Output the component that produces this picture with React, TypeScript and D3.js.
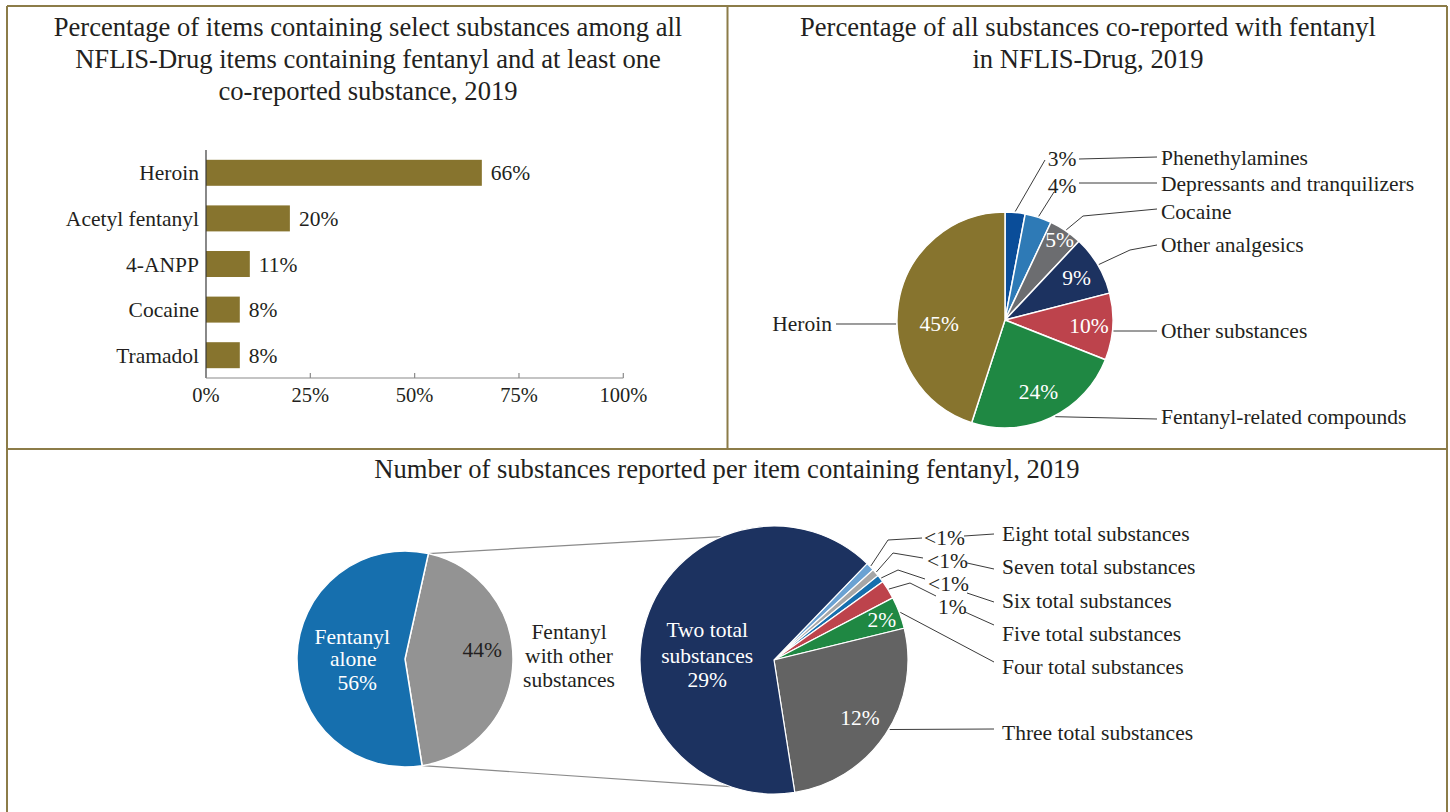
import React from 'react';
import * as d3 from 'd3';

// ---------- DATA ----------
const barCategories = ['Heroin', 'Acetyl fentanyl', '4-ANPP', 'Cocaine', 'Tramadol'];
const barValues = [66.1, 20.1, 10.5, 8.1, 8.1];
const barTicks = [0, 25, 50, 75, 100];

const coCategories = [
  'Phenethylamines',
  'Depressants and tranquilizers',
  'Cocaine',
  'Other analgesics',
  'Other substances',
  'Fentanyl-related compounds',
  'Heroin',
];
const coValues = [3, 4, 5, 9, 10, 24, 45];

const mainCategories = ['Fentanyl with other substances', 'Fentanyl alone'];
const mainValues = [44, 56];

const subCategories = [
  'Eight total substances',
  'Seven total substances',
  'Six total substances',
  'Five total substances',
  'Four total substances',
  'Three total substances',
  'Two total substances',
];
const subValues = [0.45, 0.4, 0.4, 1.0, 1.7, 11.6, 28.5];

const titleBar = [
  'Percentage of items containing select substances among all',
  'NFLIS-Drug items containing fentanyl and at least one',
  'co-reported substance, 2019',
];
const titleCo = ['Percentage of all substances co-reported with fentanyl', 'in NFLIS-Drug, 2019'];
const titleBottom = ['Number of substances reported per item containing fentanyl, 2019'];

// ---------- STYLE ----------
const FONT = '"Liberation Serif", "Times New Roman", serif';
const INK = '#231f20';
const BORDER = '#8c7c48';
const OLIVE = '#87742e';
const TITLE_SIZE = 26.6;
const LABEL_SIZE = 21.5;
const coColors = ['#0a4d99', '#2e7ab6', '#6c6d70', '#1c3260', '#bd434c', '#1f8843', OLIVE];
const mainColors = ['#939393', '#166fae'];
const subColors = ['#6aa2d3', '#a6a6a6', '#166fae', '#bd434c', '#1f8843', '#636363', '#1c3260'];

const pct = (v: number) => (v < 1 ? '<1%' : `${Math.round(v)}%`);
const rad = (d: number) => (d * Math.PI) / 180;
const deg = (r: number) => (r * 180) / Math.PI;
const polar = (cx: number, cy: number, r: number, a: number): [number, number] => [
  cx + r * Math.sin(rad(a)),
  cy - r * Math.cos(rad(a)),
];
const pts = (p: [number, number][]) => p.map((q) => q.join(',')).join(' ');

type Slice = d3.PieArcDatum<number>;
const midDeg = (s: Slice) => deg((s.startAngle + s.endAngle) / 2);

export default function App() {
  // ----- bar chart -----
  const x = d3.scaleLinear().domain([0, 100]).range([206, 623.3]);
  const y = d3
    .scaleBand<string>()
    .domain(barCategories)
    .range([150, 378])
    .paddingInner(0.43)
    .paddingOuter(0.215);

  // ----- top-right pie -----
  const cT = { x: 1005, y: 320, r: 108 };
  const pieT = d3.pie<number>().sort(null).value((d) => d)(coValues);
  const arcT = d3.arc<Slice>().innerRadius(0).outerRadius(cT.r);
  const coLayout: any[] = [
    { out: [1062, 158], l1: [[1045, 160]], l2: [[1079, 159], [1157, 157]], ny: 157 },
    { out: [1062, 185], l1: [[1054, 192]], l2: [[1079, 183], [1157, 183]], ny: 183 },
    { inR: 0.9, l1: [[1083, 216], [1157, 209]], ny: 211 },
    { inR: 0.77, l1: [[1130, 250], [1157, 245]], ny: 244 },
    { inR: 0.78, a: 95.8, l1: [[1157, 331]], ny: 330 },
    { inR: 0.73, a: 152.5, l1: [[1157, 419]], ny: 416 },
    { inR: 0.61, inDa: -11.6, a: 267.9, l1: [[836, 324]], ny: 323, left: 832 },
  ];

  // ----- bottom pies -----
  const cL = { x: 405, y: 659, r: 108 };
  const cR = { x: 774, y: 660, r: 134 };
  const pieL = d3
    .pie<number>()
    .sort(null)
    .value((d) => d)
    .startAngle(rad(12.5))
    .endAngle(rad(372.5))(mainValues);
  const arcL = d3.arc<Slice>().innerRadius(0).outerRadius(cL.r);
  const pieR = d3
    .pie<number>()
    .sort(null)
    .value((d) => d)
    .startAngle(rad(44))
    .endAngle(rad(404))(subValues);
  const arcR = d3.arc<Slice>().innerRadius(0).outerRadius(cR.r);
  const subLayout: any[] = [
    { l1: [[888, 540], [922, 538]], out: [924, 537], l2: [[964, 536], [994, 534]], ny: 533 },
    { l1: [[893, 553], [923, 558]], out: [927, 560], l2: [[967, 563], [994, 569]], ny: 566 },
    { l1: [[898, 570], [925, 579]], out: [928, 583], l2: [[967, 593], [994, 602]], ny: 600 },
    { l1: [[910, 583], [936, 596]], out: [938, 606], l2: [[965, 612], [994, 625]], ny: 633 },
    { inR: 0.86, l1: [[994, 662]], ny: 666 },
    { inR: 0.77, a: 121, l1: [[994, 729]], ny: 732 },
    { inR: 0.5, inDa: -13.5, block: true },
  ];

  const gray = pieL[0];
  const connTop = [polar(cL.x, cL.y, cL.r, deg(gray.startAngle)), polar(cR.x, cR.y, cR.r, 337)];
  const connBot = [polar(cL.x, cL.y, cL.r, deg(gray.endAngle)), polar(cR.x, cR.y, cR.r, 199)];

  const txt = (props: any, s: string, key?: any) => (
    <text key={key} fill={INK} fontSize={LABEL_SIZE} dy="0.35em" {...props}>
      {s}
    </text>
  );

  return (
    <svg
      width={1450}
      height={812}
      style={{ position: 'absolute', left: 0, top: 0, background: '#fff' }}
      fontFamily={FONT}
    >
      {/* panel borders */}
      <g stroke={BORDER} strokeWidth={2} fill="none">
        <line x1={7} y1={6} x2={1447} y2={6} />
        <line x1={7} y1={6} x2={7} y2={812} />
        <line x1={1447} y1={6} x2={1447} y2={812} />
        <line x1={7} y1={449} x2={1447} y2={449} />
        <line x1={727.5} y1={6} x2={727.5} y2={449} />
      </g>

      {/* titles */}
      {titleBar.map((t, i) => (
        <text key={t} x={368} y={36 + i * 32} textAnchor="middle" fontSize={TITLE_SIZE} fill={INK}>
          {t}
        </text>
      ))}
      {titleCo.map((t, i) => (
        <text key={t} x={1088} y={36 + i * 32} textAnchor="middle" fontSize={TITLE_SIZE} fill={INK}>
          {t}
        </text>
      ))}
      {titleBottom.map((t) => (
        <text key={t} x={727} y={478} textAnchor="middle" fontSize={TITLE_SIZE} fill={INK}>
          {t}
        </text>
      ))}

      {/* ---------- bar chart ---------- */}
      <g>
        {barCategories.map((c, i) => (
          <rect key={c} x={x(0)} y={y(c)} width={x(barValues[i]) - x(0)} height={y.bandwidth()} fill={OLIVE} />
        ))}
        <line x1={x(0)} y1={150} x2={x(0)} y2={378} stroke="#3a3a3a" strokeWidth={1.2} />
        <line x1={x(0)} y1={378} x2={x(100)} y2={378} stroke="#8a8a8a" strokeWidth={1.2} />
        {barTicks.map((t) => (
          <g key={t}>
            <line x1={x(t)} y1={373} x2={x(t)} y2={378} stroke="#8a8a8a" strokeWidth={1.2} />
            {txt({ x: x(t), y: 395, textAnchor: 'middle', fontSize: 20.5 }, `${t}%`)}
          </g>
        ))}
        {barCategories.map((c, i) =>
          txt({ x: 199, y: (y(c) as number) + y.bandwidth() / 2, textAnchor: 'end' }, c, 'c' + i)
        )}
        {barCategories.map((c, i) =>
          txt({ x: x(barValues[i]) + 9, y: (y(c) as number) + y.bandwidth() / 2 }, pct(barValues[i]), 'v' + i)
        )}
      </g>

      {/* ---------- top-right pie ---------- */}
      <g transform={`translate(${cT.x},${cT.y})`}>
        {pieT.map((s, i) => (
          <path key={i} d={arcT(s) as string} fill={coColors[i]} stroke="#fff" strokeWidth={1.5} />
        ))}
      </g>
      <g fill="none" stroke="#3b3b3b" strokeWidth={1}>
        {pieT.map((s, i) => {
          const L = coLayout[i];
          const a = L.a ?? midDeg(s);
          const start = polar(cT.x, cT.y, cT.r + 1, a);
          return (
            <g key={i}>
              <polyline points={pts([start, ...L.l1])} />
              {L.l2 && <polyline points={pts(L.l2)} />}
            </g>
          );
        })}
      </g>
      {pieT.map((s, i) => {
        const L = coLayout[i];
        const items: any[] = [];
        if (L.out) {
          items.push(txt({ x: L.out[0], y: L.out[1], textAnchor: 'middle' }, pct(coValues[i]), 'o' + i));
        } else {
          const p = polar(cT.x, cT.y, cT.r * L.inR, midDeg(s) + (L.inDa ?? 0));
          items.push(txt({ x: p[0], y: p[1], textAnchor: 'middle', fill: '#fff' }, pct(coValues[i]), 'i' + i));
        }
        if (L.left) {
          items.push(txt({ x: L.left, y: L.ny, textAnchor: 'end' }, coCategories[i], 'n' + i));
        } else {
          items.push(txt({ x: 1161, y: L.ny }, coCategories[i], 'n' + i));
        }
        return <g key={i}>{items}</g>;
      })}

      {/* ---------- bottom pie of pie ---------- */}
      <g stroke="#8a8a8a" strokeWidth={1.2}>
        <line x1={connTop[0][0]} y1={connTop[0][1]} x2={connTop[1][0]} y2={connTop[1][1]} />
        <line x1={connBot[0][0]} y1={connBot[0][1]} x2={connBot[1][0]} y2={connBot[1][1]} />
      </g>
      <g transform={`translate(${cL.x},${cL.y})`}>
        {pieL.map((s, i) => (
          <path key={i} d={arcL(s) as string} fill={mainColors[i]} stroke="#fff" strokeWidth={1.5} />
        ))}
      </g>
      <g transform={`translate(${cR.x},${cR.y})`}>
        {pieR.map((s, i) => (
          <path key={i} d={arcR(s) as string} fill={subColors[i]} stroke="#fff" strokeWidth={1.2} />
        ))}
      </g>

      {/* left pie labels */}
      {(() => {
        const pg = polar(cL.x, cL.y, cL.r * 0.72, midDeg(pieL[0]) - 9);
        const pb = polar(cL.x, cL.y, cL.r * 0.47, midDeg(pieL[1]) - 0.7);
        return (
          <g>
            {txt({ x: pg[0], y: pg[1], textAnchor: 'middle' }, pct(mainValues[0]))}
            {txt({ x: pb[0] - 2, y: pb[1] - 22, textAnchor: 'middle', fill: '#fff' }, 'Fentanyl')}
            {txt({ x: pb[0] - 1, y: pb[1], textAnchor: 'middle', fill: '#fff' }, 'alone')}
            {txt({ x: pb[0] + 3, y: pb[1] + 24, textAnchor: 'middle', fill: '#fff' }, pct(mainValues[1]))}
            {txt({ x: 569, y: 631, textAnchor: 'middle' }, 'Fentanyl')}
            {txt({ x: 569, y: 655, textAnchor: 'middle' }, 'with other')}
            {txt({ x: 569, y: 679, textAnchor: 'middle' }, 'substances')}
          </g>
        );
      })()}

      {/* right pie leaders & labels */}
      <g fill="none" stroke="#3b3b3b" strokeWidth={1}>
        {pieR.map((s, i) => {
          const L = subLayout[i];
          if (!L.l1) return null;
          const a = L.a ?? midDeg(s);
          const start = polar(cR.x, cR.y, cR.r + 1, a);
          return (
            <g key={i}>
              <polyline points={pts([start, ...L.l1])} />
              {L.l2 && <polyline points={pts(L.l2)} />}
            </g>
          );
        })}
      </g>
      {pieR.map((s, i) => {
        const L = subLayout[i];
        const items: any[] = [];
        if (L.block) {
          const p = polar(cR.x, cR.y, cR.r * L.inR, midDeg(s) + L.inDa);
          items.push(txt({ x: p[0], y: p[1] - 26, textAnchor: 'middle', fill: '#fff' }, 'Two total', 'b1'));
          items.push(txt({ x: p[0], y: p[1], textAnchor: 'middle', fill: '#fff' }, 'substances', 'b2'));
          items.push(txt({ x: p[0], y: p[1] + 24, textAnchor: 'middle', fill: '#fff' }, pct(subValues[i]), 'b3'));
        } else {
          if (L.out) {
            items.push(txt({ x: L.out[0], y: L.out[1] }, pct(subValues[i]), 'o' + i));
          } else {
            const p = polar(cR.x, cR.y, cR.r * L.inR, midDeg(s));
            items.push(txt({ x: p[0], y: p[1], textAnchor: 'middle', fill: '#fff' }, pct(subValues[i]), 'i' + i));
          }
          items.push(txt({ x: 1002, y: L.ny }, subCategories[i], 'n' + i));
        }
        return <g key={i}>{items}</g>;
      })}
    </svg>
  );
}
